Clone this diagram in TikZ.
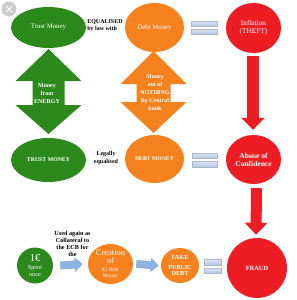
\documentclass[tikz,border=0pt]{standalone}
\usepackage{fontspec}
\setmainfont{Liberation Serif}
\usetikzlibrary{shapes.geometric,arrows.meta}
\definecolor{tgreen}{HTML}{2C8A1C}
\definecolor{torange}{HTML}{F5821F}
\definecolor{tred}{HTML}{EE1D23}
\definecolor{tblue}{HTML}{8DB3E2}
\definecolor{eqtop}{HTML}{DDE6F3}
\definecolor{eqbot}{HTML}{B4C6E2}
\newcommand{\fs}[2]{\fontsize{#1}{#2}\selectfont}
\tikzset{
  blob/.style={ellipse, inner sep=0pt, text=white, align=center},
  lbl/.style={align=center, inner sep=0pt, text=black, font=\bfseries\fs{6}{7.5}},
  dbltext/.style={align=center, inner sep=0pt, text=white, font=\bfseries\fs{5.6}{8}},
  redarrow/.style={draw=tred, line width=12pt, -{Triangle[width=23pt,length=12pt]}},
  bluearrow/.style={draw=tblue, line width=8pt, -{Triangle[width=14pt,length=8pt]}},
  eqbar/.style={top color=eqtop, bottom color=eqbot, draw=eqbot!80!gray, line width=0.2pt}
}
\begin{document}
\begin{tikzpicture}[x=1pt,y=-1pt]
\useasboundingbox (0,0) rectangle (297,300);
% close button
\fill[gray!40] (9,9) circle (7.5);
\draw[white, line width=1pt] (6,6) -- (12,12) (12,6) -- (6,12);

% top row
\node[blob, fill=tgreen, minimum width=75pt, minimum height=41pt, font=\fs{6.8}{7.5}] (tm1) at (48.5,27.5) {Trust Money};
\node[lbl, align=left] (eq1) at (105,25.5) {EQUALISED\\by law with};
\node[blob, fill=torange, minimum width=59pt, minimum height=49pt, font=\fs{6.8}{7.5}] (dm1) at (154.5,27.5) {Debt Money};
\node[blob, fill=tred, minimum width=55pt, minimum height=50pt, font=\fs{7.3}{8}] (infl) at (253.5,28) {Inflation\\(THEFT)};

% equals signs
\shade[eqbar] (191,21) rectangle (217,26);
\shade[eqbar] (191,29) rectangle (217,34);
\shade[eqbar] (192,153) rectangle (217,158);
\shade[eqbar] (192,161) rectangle (217,167);
\shade[eqbar] (204,259) rectangle (221,265);
\shade[eqbar] (204,268) rectangle (221,273);

% green double arrow
\fill[tgreen] (48.5,49) -- (81.5,81) -- (64.5,81) -- (64.5,105) -- (81.5,105) -- (48.5,134)
  -- (15.5,105) -- (32.5,105) -- (32.5,81) -- (15.5,81) -- cycle;
\node[dbltext, font=\bfseries\fs{6}{7.7}] (energy) at (47,93.5) {Money\\from\\ENERGY};

% orange double arrow
\fill[torange] (153.5,51) -- (186.5,84) -- (170.5,84) -- (170.5,102) -- (186.5,102) -- (153.5,133)
  -- (120.5,102) -- (136.5,102) -- (136.5,84) -- (120.5,84) -- cycle;
\node[dbltext, font=\bfseries\fs{6}{8.2}] (nothing) at (155,92.5) {Money\\out of\\NOTHING\\By Central\\bank};

% middle row
\node[blob, fill=tgreen, minimum width=75pt, minimum height=44pt, font=\bfseries\fs{5.8}{7}] (tm2) at (48.5,160) {TRUST MONEY};
\node[lbl] (eq2) at (106,158) {Legally\\equalised};
\node[blob, fill=torange, minimum width=59pt, minimum height=48pt, font=\bfseries\fs{5.7}{7}] (dm2) at (154.5,159) {DEBT MONEY};
\node[blob, fill=tred, minimum width=55pt, minimum height=49pt, font=\bfseries\fs{7.5}{8}] (abuse) at (253.5,159.5) {Abuse of\\Confidence};

% bottom row
\node[blob, fill=tgreen, minimum width=36pt, minimum height=36pt, font=\fs{6.2}{7}] (one) at (35,265.5) {{\fs{10.5}{10}\selectfont 1€}\\[0.5pt]Spent\\once};
\node[lbl, font=\bfseries\fs{6.2}{7}] (used) at (72.5,243.5) {Used again as\\Collateral to\\the ECB for\\the};
\node[blob, fill=torange, minimum width=45pt, minimum height=38pt, font=\fs{5.2}{5.5}] (cre) at (110.5,264) {{\fs{8.5}{8}\selectfont Creation}\\[0.5pt]{\fs{8.5}{8}\selectfont of}\\[3pt]€1 Debt\\Money};
\node[blob, fill=torange, minimum width=38pt, minimum height=35pt, font=\bfseries\fs{6.2}{6.5}] (fake) at (180,265.5) {FAKE\\[3pt]PUBLIC\\DEBT};
\node[blob, fill=tred, minimum width=60pt, minimum height=60pt, font=\bfseries\fs{6.4}{7}] (fraud) at (257,268) {FRAUD};

% connectors
\draw[redarrow] ([yshift=-3pt,xshift=-0.5pt]infl.south) -- ([yshift=5pt,xshift=-0.5pt]abuse.north);
\draw[redarrow, line width=11pt, -{Triangle[width=22pt,length=12pt]}] ([yshift=-4pt,xshift=3pt]abuse.south) -- ([yshift=3pt,xshift=-1pt]fraud.north);
\draw[bluearrow] ([xshift=7pt]one.east) -- ([xshift=-5pt]cre.west);
\draw[bluearrow] ([xshift=3pt]cre.east) -- ([xshift=-2pt]fake.west);
\end{tikzpicture}
\end{document}
